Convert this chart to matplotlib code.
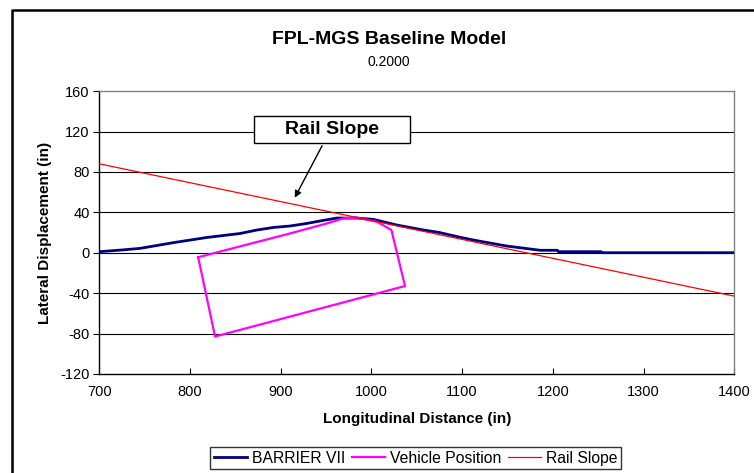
import matplotlib
matplotlib.use('Agg')
import matplotlib.pyplot as plt
from matplotlib.lines import Line2D
from matplotlib.patches import Rectangle

# ---- data ----
barrier_x = [700, 725, 745, 782, 818, 855, 874, 892, 910, 929, 947, 962, 984, 1002,
             1028, 1057, 1075, 1094, 1112, 1149, 1186, 1205, 1206, 1253, 1254, 1400]
barrier_y = [1, 2.7, 4.3, 10, 15, 19, 22.5, 25, 26.4, 29, 32, 34.3, 34.3, 33,
             27.4, 22.5, 20, 16, 12.6, 6.6, 2.4, 2.4, 1, 1, 0, 0]

vehicle_x = [809, 827.6, 1037, 1022, 1006, 984, 969, 951, 910, 809]
vehicle_y = [-4.5, -83, -33, 22.5, 30.7, 34.7, 34, 29, 19, -4.5]

rail_x = [700, 1400]
rail_y = [88, -43]

x_ticks = [700, 800, 900, 1000, 1100, 1200, 1300, 1400]
y_ticks = [-120, -80, -40, 0, 40, 80, 120, 160]

plt.rcParams['font.family'] = ['Liberation Sans', 'DejaVu Sans']
plt.rcParams['axes.unicode_minus'] = False

fig = plt.figure(figsize=(7.54, 4.73), dpi=100)
ax = fig.add_axes([0.1317, 0.2095, 0.9739 - 0.1317, 0.8074 - 0.2095])

ax.set_xlim(700, 1400)
ax.set_ylim(-120, 160)
ax.set_xticks(x_ticks)
ax.set_yticks(y_ticks)
ax.tick_params(axis='x', direction='in', length=4, labelsize=10.5, pad=8, color='black')
ax.tick_params(axis='y', direction='out', length=4, labelsize=10.5, pad=3, color='black')

for y in y_ticks[1:-1]:
    ax.axhline(y, color='black', lw=0.8, zorder=1)
ax.spines['left'].set_color('black')
ax.spines['bottom'].set_color('black')
ax.spines['top'].set_color('#808080')
ax.spines['right'].set_color('#808080')
for s in ax.spines.values():
    s.set_linewidth(1.0)

ax.plot(barrier_x, barrier_y, color='#000080', lw=2.0, label='BARRIER VII', zorder=3)
ax.plot(vehicle_x, vehicle_y, color='#FF00FF', lw=1.6, label='Vehicle Position', zorder=4)
ax.plot(rail_x, rail_y, color='#FF0000', lw=0.9, label='Rail Slope', zorder=5)

# annotation box with arrow
ax.add_patch(Rectangle((870, 108.3), 172.6, 27.0, facecolor='white', edgecolor='black',
                       lw=1.0, zorder=6))
ax.text(956, 121.8, 'Rail Slope', ha='center', va='center', fontsize=14,
        fontweight='bold', zorder=7)
ax.annotate('', xy=(914, 52), xytext=(947, 108.3),
            arrowprops=dict(arrowstyle='-|>', color='black', lw=1.0, mutation_scale=10),
            zorder=7)

ax.set_xlabel('Longitudinal Distance (in)', fontsize=11, fontweight='bold', labelpad=9)
ax.set_ylabel('Lateral Displacement (in)', fontsize=11, fontweight='bold', labelpad=6)

fig.text(0.516, 1 - 40 / 473, 'FPL-MGS Baseline Model', ha='center', va='center',
         fontsize=14, fontweight='bold')
fig.text(0.516, 1 - 62 / 473, '0.2000', ha='center', va='center', fontsize=10)

leg = fig.legend(loc='center', bbox_to_anchor=(415.5 / 754, 1 - 458 / 473), ncol=3,
                 fontsize=11.3, frameon=True, fancybox=False, handlelength=2.1,
                 handletextpad=0.32, columnspacing=0.42, borderpad=0.25,
                 borderaxespad=0)
leg.get_frame().set_edgecolor('black')
leg.get_frame().set_linewidth(1.0)

# outer chart frame (left and top edges visible)
fx = 12 / 754
fy = 1 - 10 / 473
fig.add_artist(Line2D([fx, fx, 1.0], [0.0, fy, fy], transform=fig.transFigure,
                      color='black', lw=1.8))

fig.savefig('out.png', dpi=100)
